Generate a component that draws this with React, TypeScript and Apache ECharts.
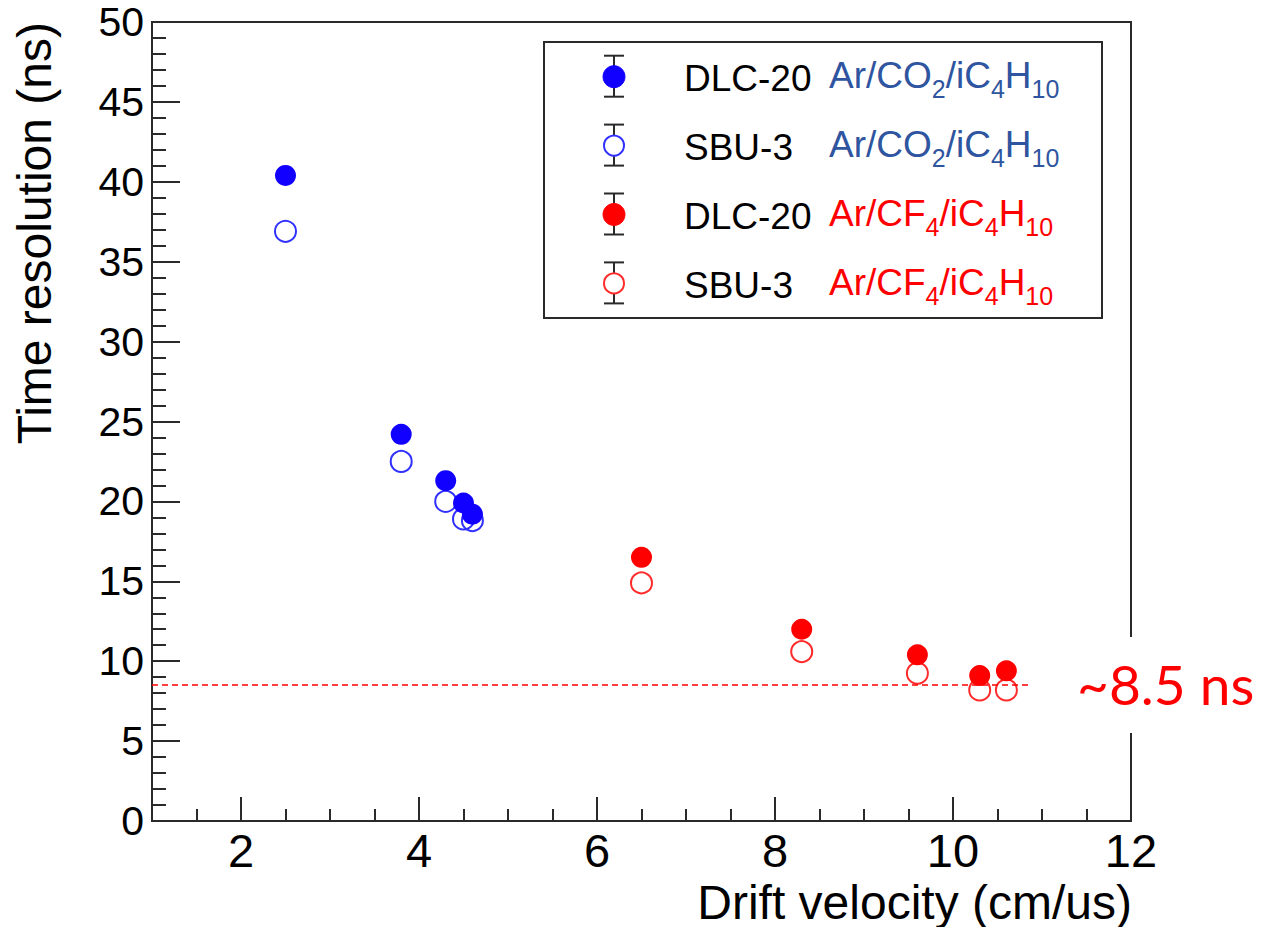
import React, { useEffect, useRef } from "react";
import * as echarts from "echarts";

// Drift velocity (cm/us) for each gas mixture
const velocityCO2 = [2.5, 3.8, 4.3, 4.5, 4.6];
const velocityCF4 = [6.5, 8.3, 9.6, 10.3, 10.6];

// Time resolution (ns)
const dlcCO2 = [40.4, 24.2, 21.3, 19.9, 19.2];
const sbuCO2 = [36.9, 22.5, 20.0, 18.9, 18.8];
const dlcCF4 = [16.5, 12.0, 10.4, 9.1, 9.4];
const sbuCF4 = [14.9, 10.6, 9.25, 8.2, 8.2];

// Axis ticks
const xMajorTicks = [2, 4, 6, 8, 10, 12];
const xMinorTicks = [1.5, 2.5, 3, 3.5, 4.5, 5, 5.5, 6.5, 7, 7.5, 8.5, 9, 9.5, 10.5, 11, 11.5];
const xRange = [1, 12];
const yRange = [0, 50];
const yStep = 5;

// Best resolution reached
const plateauLevel = 8.5;
const plateauEndVelocity = 10.85;
const plateauLabel = "~8.5 ns";

const xTitle = "Drift velocity (cm/us)";
const yTitle = "Time resolution (ns)";

const co2Mixture = [
  { text: "Ar/CO" },
  { text: "2", sub: true },
  { text: "/iC" },
  { text: "4", sub: true },
  { text: "H" },
  { text: "10", sub: true },
];
const cf4Mixture = [
  { text: "Ar/CF" },
  { text: "4", sub: true },
  { text: "/iC" },
  { text: "4", sub: true },
  { text: "H" },
  { text: "10", sub: true },
];

const BLUE = "#1100ff";
const BLUE_OPEN = "#3030ff";
const RED = "#ff0000";
const RED_OPEN = "#ff2a2a";
const GAS_BLUE = "#2f55a0";
const AXIS = "#2a2a2a";
const FONT = '"Liberation Sans", Arial, Helvetica, sans-serif';

const legendEntries = [
  { name: "DLC-20", filled: true, color: BLUE, gas: co2Mixture, gasColor: GAS_BLUE },
  { name: "SBU-3", filled: false, color: BLUE_OPEN, gas: co2Mixture, gasColor: GAS_BLUE },
  { name: "DLC-20", filled: true, color: RED, gas: cf4Mixture, gasColor: RED },
  { name: "SBU-3", filled: false, color: RED_OPEN, gas: cf4Mixture, gasColor: RED },
];

let measureCtx: CanvasRenderingContext2D | null = null;
function measure(text: string, size: number, family: string): number {
  if (!measureCtx) measureCtx = document.createElement("canvas").getContext("2d");
  if (!measureCtx) return text.length * size * 0.55;
  measureCtx.font = `${size}px ${family}`;
  return measureCtx.measureText(text).width;
}

function zip(xs: number[], ys: number[]) {
  return xs.map((x, i) => [x, ys[i]]);
}

function mixtureText(
  pieces: { text: string; sub?: boolean }[],
  startX: number,
  baseline: number,
  color: string
) {
  const out: any[] = [];
  let x = startX;
  for (const p of pieces) {
    const size = p.sub ? 25 : 37;
    const b = p.sub ? baseline + 9 : baseline;
    out.push({
      type: "text",
      x,
      y: b - 0.3465 * size,
      z: 20,
      style: {
        text: p.text,
        fontSize: size,
        fontFamily: FONT,
        fill: color,
        align: "left",
        verticalAlign: "middle",
      },
    });
    x += measure(p.text, size, FONT);
  }
  return out;
}

function buildLegend() {
  const left = 544;
  const top = 42;
  const width = 558;
  const height = 276;
  const markerX = 614;
  const rowStart = 76.7;
  const rowStep = 68.9;
  const els: any[] = [
    {
      type: "rect",
      z: 10,
      shape: { x: left, y: top, width, height },
      style: { fill: "#fff", stroke: AXIS, lineWidth: 2 },
    },
  ];
  legendEntries.forEach((e, i) => {
    const cy = rowStart + i * rowStep;
    const bar = { stroke: AXIS, lineWidth: 2 };
    els.push(
      { type: "line", z: 15, shape: { x1: markerX, y1: cy - 21, x2: markerX, y2: cy + 20 }, style: bar },
      { type: "line", z: 15, shape: { x1: markerX - 10, y1: cy - 21, x2: markerX + 10, y2: cy - 21 }, style: bar },
      { type: "line", z: 15, shape: { x1: markerX - 10, y1: cy + 20, x2: markerX + 10, y2: cy + 20 }, style: bar },
      {
        type: "circle",
        z: 16,
        shape: { cx: markerX, cy, r: e.filled ? 11 : 10 },
        style: e.filled
          ? { fill: e.color, stroke: e.color, lineWidth: 1 }
          : { fill: "#fff", stroke: e.color, lineWidth: 2 },
      },
      {
        type: "text",
        z: 20,
        x: 684,
        y: cy + 2,
        style: {
          text: e.name,
          fontSize: 37,
          fontFamily: FONT,
          fill: "#000",
          align: "left",
          verticalAlign: "middle",
        },
      }
    );
    els.push(...mixtureText(e.gas, 829, cy + 12, e.gasColor));
  });
  return els;
}

function buildOption(): echarts.EChartsOption {
  const openStyle = (c: string) => ({
    color: "rgba(255,255,255,0)",
    borderColor: c,
    borderWidth: 2,
    opacity: 1,
  });
  return {
    animation: false,
    backgroundColor: "#fff",
    grid: {
      left: 152,
      top: 22,
      width: 979,
      height: 799,
      show: true,
      borderColor: AXIS,
      borderWidth: 2,
      backgroundColor: "transparent",
      outerBoundsMode: "none",
    } as any,
    xAxis: [
      {
        type: "value",
        min: xRange[0],
        max: xRange[1],
        splitLine: { show: false },
        axisLine: { show: true, onZero: false, lineStyle: { color: AXIS, width: 2 } },
        axisTick: {
          show: true,
          inside: true,
          length: 24,
          customValues: xMajorTicks,
          lineStyle: { color: AXIS, width: 2 },
        },
        axisLabel: {
          customValues: xMajorTicks,
          fontSize: 47,
          fontFamily: FONT,
          color: "#000",
          margin: 6,
        },
      } as any,
      {
        type: "value",
        position: "bottom",
        min: xRange[0],
        max: xRange[1],
        splitLine: { show: false },
        axisLine: { show: false },
        axisLabel: { show: false },
        axisTick: {
          show: true,
          inside: true,
          length: 12,
          customValues: xMinorTicks,
          lineStyle: { color: AXIS, width: 2 },
        },
      } as any,
    ],
    yAxis: {
      type: "value",
      min: yRange[0],
      max: yRange[1],
      interval: yStep,
      splitLine: { show: false },
      axisLine: { show: true, onZero: false, lineStyle: { color: AXIS, width: 2 } },
      axisTick: { show: true, inside: true, length: 28, lineStyle: { color: AXIS, width: 2 } },
      minorTick: { show: true, splitNumber: 5, length: 14, lineStyle: { color: AXIS, width: 2 } },
      minorSplitLine: { show: false },
      axisLabel: { fontSize: 41, fontFamily: FONT, color: "#000", margin: 8 },
    },
    series: [
      {
        name: "SBU-3 Ar/CO2/iC4H10",
        type: "scatter",
        symbol: "circle",
        symbolSize: 21,
        data: zip(velocityCO2, sbuCO2),
        itemStyle: openStyle(BLUE_OPEN),
      },
      {
        name: "SBU-3 Ar/CF4/iC4H10",
        type: "scatter",
        symbol: "circle",
        symbolSize: 21,
        data: zip(velocityCF4, sbuCF4),
        itemStyle: openStyle(RED_OPEN),
      },
      {
        name: "DLC-20 Ar/CO2/iC4H10",
        type: "scatter",
        symbol: "circle",
        symbolSize: 21,
        data: zip(velocityCO2, dlcCO2),
        itemStyle: { color: BLUE, opacity: 1 },
      },
      {
        name: "DLC-20 Ar/CF4/iC4H10",
        type: "scatter",
        symbol: "circle",
        symbolSize: 21,
        data: zip(velocityCF4, dlcCF4),
        itemStyle: { color: RED, opacity: 1 },
        markLine: {
          silent: true,
          symbol: ["none", "none"],
          label: { show: false },
          lineStyle: { color: RED, width: 1.5, type: [6, 4], opacity: 1 },
          data: [[{ coord: [xRange[0], plateauLevel] }, { coord: [plateauEndVelocity, plateauLevel] }]],
        },
      },
    ],
    graphic: {
      elements: [
        {
          type: "text",
          x: 34,
          y: 22,
          rotation: Math.PI / 2,
          style: {
            text: yTitle,
            fontSize: 48,
            fontFamily: FONT,
            fill: "#000",
            align: "right",
            verticalAlign: "middle",
          },
        },
        {
          type: "text",
          x: 1132,
          y: 902,
          style: {
            text: xTitle,
            fontSize: 48,
            fontFamily: FONT,
            fill: "#000",
            align: "right",
            verticalAlign: "middle",
          },
        },
        ...buildLegend(),
        {
          type: "rect",
          z: 30,
          shape: { x: 1068, y: 637, width: 198, height: 96 },
          style: { fill: "#fff" },
        },
        {
          type: "text",
          z: 31,
          x: 1077,
          y: 684,
          style: {
            text: plateauLabel,
            fontSize: 55,
            fontFamily: "Lato, 'Open Sans', sans-serif",
            fill: RED,
            align: "left",
            verticalAlign: "middle",
          },
        },
      ],
    },
  } as any;
}

export default function App() {
  const ref = useRef<HTMLDivElement>(null);
  useEffect(() => {
    if (!ref.current) return;
    const chart = echarts.init(ref.current, null, { renderer: "svg" });
    chart.setOption(buildOption());
    return () => chart.dispose();
  }, []);
  return (
    <div
      ref={ref}
      style={{ position: "fixed", left: 0, top: 0, width: 1266, height: 927, background: "#fff" }}
    />
  );
}
